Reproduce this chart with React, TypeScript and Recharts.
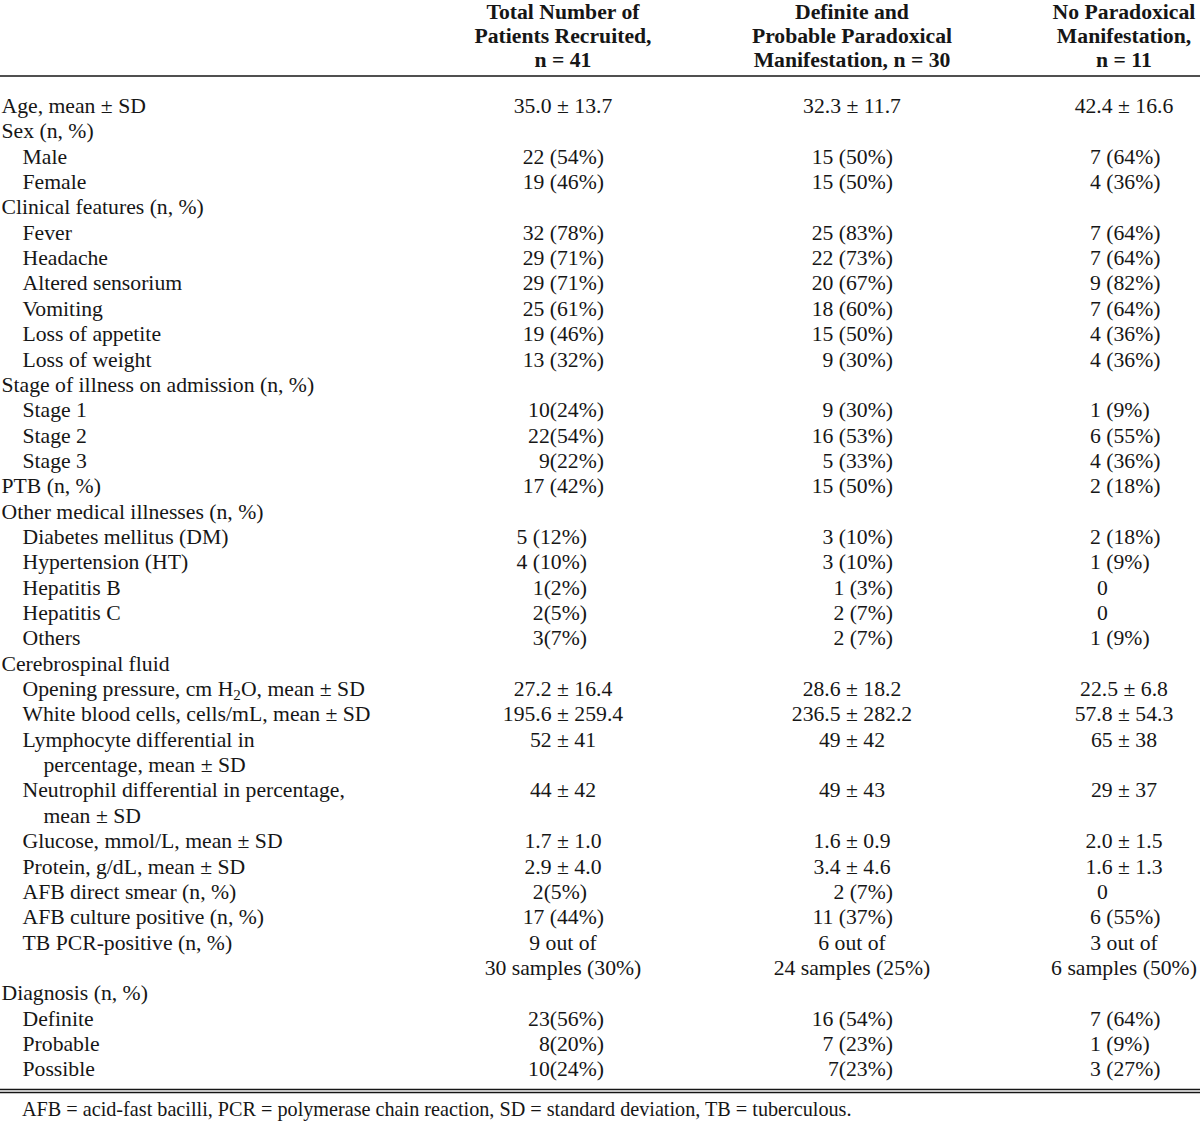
import { ScatterChart, Scatter, XAxis, YAxis, ReferenceLine } from 'recharts'

// one entry per printed line of the table body
const ROW_LABELS = [
  'Age, mean ± SD',
  'Sex (n, %)',
  'Male',
  'Female',
  'Clinical features (n, %)',
  'Fever',
  'Headache',
  'Altered sensorium',
  'Vomiting',
  'Loss of appetite',
  'Loss of weight',
  'Stage of illness on admission (n, %)',
  'Stage 1',
  'Stage 2',
  'Stage 3',
  'PTB (n, %)',
  'Other medical illnesses (n, %)',
  'Diabetes mellitus (DM)',
  'Hypertension (HT)',
  'Hepatitis B',
  'Hepatitis C',
  'Others',
  'Cerebrospinal fluid',
  'Opening pressure, cm H_2O, mean ± SD',
  'White blood cells, cells/mL, mean ± SD',
  'Lymphocyte differential in',
  'percentage, mean ± SD',
  'Neutrophil differential in percentage,',
  'mean ± SD',
  'Glucose, mmol/L, mean ± SD',
  'Protein, g/dL, mean ± SD',
  'AFB direct smear (n, %)',
  'AFB culture positive (n, %)',
  'TB PCR-positive (n, %)',
  '',
  'Diagnosis (n, %)',
  'Definite',
  'Probable',
  'Possible',
]

const ROW_LEVELS = [0, 0, 1, 1, 0, 1, 1, 1, 1, 1, 1, 0, 1, 1, 1, 0, 0, 1, 1, 1, 1, 1, 0, 1, 1, 1, 2, 1, 2, 1, 1, 1, 1, 1, 0, 0, 1, 1, 1]

const TOTAL = [
  '35.0 ± 13.7', '', '22 (54%)', '19 (46%)', '', '32 (78%)', '29 (71%)', '29 (71%)', '25 (61%)', '19 (46%)',
  '13 (32%)', '', '10(24%)', '22(54%)', '9(22%)', '17 (42%)', '', '5 (12%)', '4 (10%)', '1(2%)',
  '2(5%)', '3(7%)', '', '27.2 ± 16.4', '195.6 ± 259.4', '52 ± 41', '', '44 ± 42', '', '1.7 ± 1.0',
  '2.9 ± 4.0', '2(5%)', '17 (44%)', '9 out of', '30 samples (30%)', '', '23(56%)', '8(20%)', '10(24%)',
]

const PARADOXICAL = [
  '32.3 ± 11.7', '', '15 (50%)', '15 (50%)', '', '25 (83%)', '22 (73%)', '20 (67%)', '18 (60%)', '15 (50%)',
  '9 (30%)', '', '9 (30%)', '16 (53%)', '5 (33%)', '15 (50%)', '', '3 (10%)', '3 (10%)', '1 (3%)',
  '2 (7%)', '2 (7%)', '', '28.6 ± 18.2', '236.5 ± 282.2', '49 ± 42', '', '49 ± 43', '', '1.6 ± 0.9',
  '3.4 ± 4.6', '2 (7%)', '11 (37%)', '6 out of', '24 samples (25%)', '', '16 (54%)', '7 (23%)', '7(23%)',
]

const NO_PARADOXICAL = [
  '42.4 ± 16.6', '', '7 (64%)', '4 (36%)', '', '7 (64%)', '7 (64%)', '9 (82%)', '7 (64%)', '4 (36%)',
  '4 (36%)', '', '1 (9%)', '6 (55%)', '4 (36%)', '2 (18%)', '', '2 (18%)', '1 (9%)', '0',
  '0', '1 (9%)', '', '22.5 ± 6.8', '57.8 ± 54.3', '65 ± 38', '', '29 ± 37', '', '2.0 ± 1.5',
  '1.6 ± 1.3', '0', '6 (55%)', '3 out of', '6 samples (50%)', '', '7 (64%)', '1 (9%)', '3 (27%)',
]

const HEADERS = [
  ['Total Number of', 'Patients Recruited,', 'n = 41'],
  ['Definite and', 'Probable Paradoxical', 'Manifestation, n = 30'],
  ['No Paradoxical', 'Manifestation,', 'n = 11'],
]

const FOOTNOTE = 'AFB = acid-fast bacilli, PCR = polymerase chain reaction, SD = standard deviation, TB = tuberculous.'

// layout
const W = 1200
const H = 1122
const LINE_H = 25.35
const FIRST_BASELINE = 113
const Y_MIN = -FIRST_BASELINE / LINE_H
const Y_MAX = Y_MIN + H / LINE_H
const HEADER_TOP = (18.5 - FIRST_BASELINE) / LINE_H
const HEADER_STEP = 24.3 / LINE_H
const LABEL_X = [1.5, 22.5, 43.5]
const COLS = [
  { center: 563, edge: 604, anchor: 'end' },
  { center: 852, edge: 893, anchor: 'end' },
  { center: 1124, edge: 1090, anchor: 'start' },
]
const FONT = '"Liberation Serif", "Times New Roman", serif'
const FS = 21.7
const INK = '#161616'

const rich = (s: string) => {
  const parts = s.split(/_(\d)/)
  return parts.map((p, i) =>
    i % 2 === 1
      ? <tspan key={i} fontSize={FS * 0.7} dy={4}>{p}</tspan>
      : <tspan key={i} dy={i > 0 ? -4 : 0}>{p}</tspan>
  )
}

type Pt = { x: number; y: number; text: string; anchor?: string; bold?: boolean; size?: number }

const TextMark = (props: any) => {
  const { cx, cy, payload } = props
  const d = payload as Pt
  return (
    <text x={cx} y={cy} textAnchor={d.anchor ?? 'start'} fontFamily={FONT} fontSize={d.size ?? FS}
      fontWeight={d.bold ? 700 : 400} fill={INK}>
      {rich(d.text)}
    </text>
  )
}

const labelPts: Pt[] = ROW_LABELS
  .map((t, i) => ({ x: LABEL_X[ROW_LEVELS[i]], y: i, text: t }))
  .filter(d => d.text)

const cellPts: Pt[] = [TOTAL, PARADOXICAL, NO_PARADOXICAL].flatMap((col, c) =>
  col.map((t, i) => {
    const lay = COLS[c]
    if (/±|out of|samples/.test(t)) return { x: lay.center, y: i, text: t, anchor: 'middle' }
    let x = lay.edge
    // the short counts of the first column sit a little further left
    if (c === 0 && /^\d \(|^\d\(/.test(t) && i >= 17 && i <= 31) x = 587
    if (c === 2 && t === '0') x = 1097
    return { x, y: i, text: t, anchor: lay.anchor }
  }).filter(d => d.text)
)

const headerPts: Pt[] = HEADERS.flatMap((lines, c) =>
  lines.map((t, k) => ({ x: COLS[c].center, y: HEADER_TOP + k * HEADER_STEP, text: t, anchor: 'middle', bold: true }))
)

const footPts: Pt[] = [{ x: 22, y: (1116 - FIRST_BASELINE) / LINE_H, text: FOOTNOTE, size: 20.2 }]

export default function App() {
  return (
    <div style={{ position: 'absolute', left: 0, top: 0, width: W, height: H, background: '#fff' }}>
      <ScatterChart width={W} height={H} margin={{ top: 0, right: 0, bottom: 0, left: 0 }}>
        <XAxis type="number" dataKey="x" domain={[0, W]} allowDataOverflow hide />
        <YAxis type="number" dataKey="y" domain={[Y_MIN, Y_MAX]} allowDataOverflow reversed hide />
        <ReferenceLine y={(76 - FIRST_BASELINE) / LINE_H} stroke={INK} strokeWidth={1.6} />
        <ReferenceLine y={(1089.5 - FIRST_BASELINE) / LINE_H} stroke={INK} strokeWidth={1.3} />
        <ReferenceLine y={(1092.5 - FIRST_BASELINE) / LINE_H} stroke={INK} strokeWidth={1.3} />
        <Scatter data={headerPts} shape={TextMark} isAnimationActive={false} />
        <Scatter data={labelPts} shape={TextMark} isAnimationActive={false} />
        <Scatter data={cellPts} shape={TextMark} isAnimationActive={false} />
        <Scatter data={footPts} shape={TextMark} isAnimationActive={false} />
      </ScatterChart>
    </div>
  )
}
